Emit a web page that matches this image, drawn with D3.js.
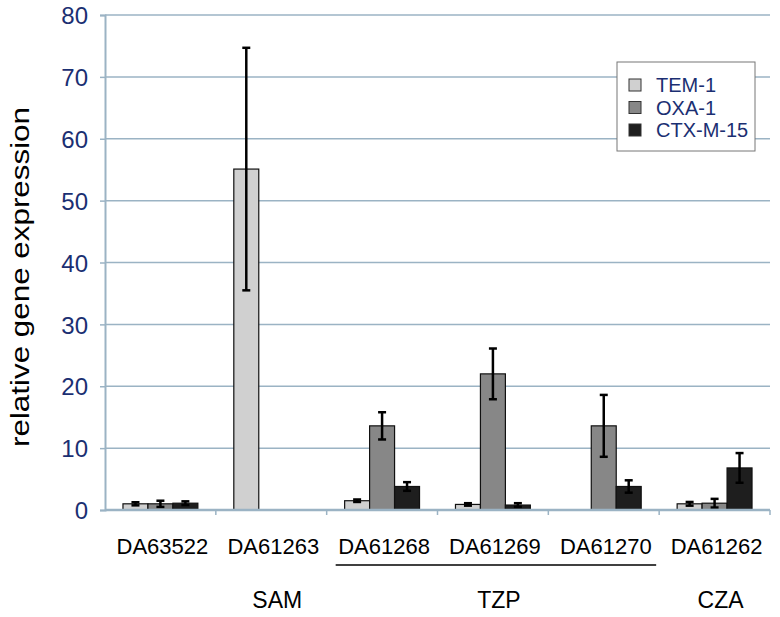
<!DOCTYPE html>
<html><head><meta charset="utf-8">
<script src="https://cdn.jsdelivr.net/npm/d3@7"></script>
<style>body{margin:0;background:#fff}svg{display:block;font-family:"Liberation Sans",Arial,sans-serif}</style>
</head><body><svg id="c" width="780" height="617"></svg>
<script>
const categories = ["DA63522","DA61263","DA61268","DA61269","DA61270","DA61262"];
const series = ["TEM-1","OXA-1","CTX-M-15"];
const temValues = [1.0, 55.1, 1.5, 0.9, 0, 1.0];
const temErrors = [0.25, 19.6, 0.2, 0.2, 0, 0.3];
const oxaValues = [1.0, 0, 13.6, 22.0, 13.6, 1.1];
const oxaErrors = [0.5, 0, 2.2, 4.1, 5.0, 0.7];
const ctxValues = [1.1, 0, 3.8, 0.8, 3.8, 6.8];
const ctxErrors = [0.3, 0, 0.7, 0.3, 1.0, 2.4];
const yTicks = [0,10,20,30,40,50,60,70,80];
const groups = [{label:"SAM", from:1, to:1},{label:"TZP", from:2, to:4},{label:"CZA", from:5, to:5}];
const colors = ["#d0d0d0","#878787","#1e1e1e"];

const svg = d3.select("#c");
const L=105, R=770, T=15, B=510;
const axisColor = "#9bb3c4";
const navy = "#1b2f72";
const x0 = d3.scaleBand().domain(categories).range([L,R]).padding(0);
const x1 = d3.scaleBand().domain(series).range([0,x0.bandwidth()]).paddingInner(0).paddingOuter(0.72);
const y = d3.scaleLinear().domain([0,80]).range([B,T]);

// gridlines
svg.append("g").selectAll("line").data(yTicks.filter(d=>d>0)).join("line")
  .attr("x1",L).attr("x2",R).attr("y1",d=>y(d)).attr("y2",d=>y(d))
  .attr("stroke",axisColor).attr("stroke-width",1.5);

// y axis
const ya = svg.append("g").attr("transform",`translate(${L},0)`)
  .call(d3.axisLeft(y).tickValues(yTicks).tickSize(5).tickPadding(12));
ya.select(".domain").attr("stroke",axisColor).attr("stroke-width",2);
ya.selectAll(".tick line").attr("stroke",axisColor).attr("stroke-width",1.5);
ya.selectAll("text").attr("fill",navy).attr("font-size",24).attr("dy","0.36em")
  .attr("font-family","Liberation Sans, Arial, sans-serif");

svg.append("text").attr("transform",`translate(29,277) rotate(-90)`)
  .attr("text-anchor","middle").attr("font-size",25).attr("fill","#000")
  .attr("textLength",340).attr("lengthAdjust","spacingAndGlyphs")
  .text("relative gene expression");

// bars
const data = categories.map((c,i)=>({cat:c, vals:[
  {s:series[0],v:temValues[i],e:temErrors[i]},
  {s:series[1],v:oxaValues[i],e:oxaErrors[i]},
  {s:series[2],v:ctxValues[i],e:ctxErrors[i]}]}));
const g = svg.append("g").selectAll("g").data(data).join("g")
  .attr("transform",d=>`translate(${x0(d.cat)},0)`);
g.selectAll("rect").data(d=>d.vals.filter(v=>v.v>0)).join("rect")
  .attr("x",d=>x1(d.s)).attr("width",x1.bandwidth())
  .attr("y",d=>y(d.v)).attr("height",d=>B-y(d.v))
  .attr("fill",d=>colors[series.indexOf(d.s)]).attr("stroke","#111").attr("stroke-width",1.2);
const eb = g.selectAll("g.err").data(d=>d.vals.filter(v=>v.v>0)).join("g").attr("class","err");
const cx = d=>x1(d.s)+x1.bandwidth()/2;
eb.append("line").attr("x1",cx).attr("x2",cx)
  .attr("y1",d=>y(d.v+d.e)).attr("y2",d=>y(Math.max(0,d.v-d.e))).attr("stroke","#000").attr("stroke-width",2.5);
eb.append("line").attr("x1",d=>cx(d)-4).attr("x2",d=>cx(d)+4)
  .attr("y1",d=>y(d.v+d.e)).attr("y2",d=>y(d.v+d.e)).attr("stroke","#000").attr("stroke-width",2.5);
eb.append("line").attr("x1",d=>cx(d)-4).attr("x2",d=>cx(d)+4)
  .attr("y1",d=>y(Math.max(0,d.v-d.e))).attr("y2",d=>y(Math.max(0,d.v-d.e))).attr("stroke","#000").attr("stroke-width",2.5);

// x axis
svg.append("line").attr("x1",L).attr("x2",R).attr("y1",B).attr("y2",B).attr("stroke",axisColor).attr("stroke-width",2.5);
svg.append("g").selectAll("line").data(categories.slice(1).concat(["__end"])).join("line")
  .attr("x1",d=>d==="__end"?R:x0(d)).attr("x2",d=>d==="__end"?R:x0(d))
  .attr("y1",B).attr("y2",B+5).attr("stroke",axisColor).attr("stroke-width",1.5);
svg.append("g").selectAll("text").data(categories).join("text")
  .attr("x",d=>x0(d)+x0.bandwidth()/2+2).attr("y",554).attr("text-anchor","middle")
  .attr("font-size",22).attr("fill","#000").text(d=>d);

// group labels
const gl = svg.append("g").selectAll("g").data(groups).join("g");
gl.append("text").attr("x",d=>(x0(categories[d.from])+x0(categories[d.to])+x0.bandwidth())/2+6)
  .attr("y",608).attr("text-anchor","middle").attr("font-size",23).attr("fill","#000").text(d=>d.label);
gl.filter(d=>d.to>d.from).append("line")
  .attr("x1",d=>x0(categories[d.from])+9).attr("x2",d=>x0(categories[d.to])+x0.bandwidth()-3)
  .attr("y1",565).attr("y2",565).attr("stroke","#000").attr("stroke-width",1.3);

// legend
const lg = svg.append("g").attr("transform","translate(617,62)");
lg.append("rect").attr("width",138).attr("height",89).attr("fill","#fff").attr("stroke","#777").attr("stroke-width",1);
const li = lg.selectAll("g").data(series).join("g").attr("transform",(d,i)=>`translate(0,${23+i*22.5})`);
li.append("rect").attr("x",12).attr("y",-6).attr("width",12).attr("height",12)
  .attr("fill",(d,i)=>colors[i]).attr("stroke","#333").attr("stroke-width",1);
li.append("text").attr("x",39).attr("y",7).attr("font-size",20).attr("fill",navy).text(d=>d);
</script></body></html>
